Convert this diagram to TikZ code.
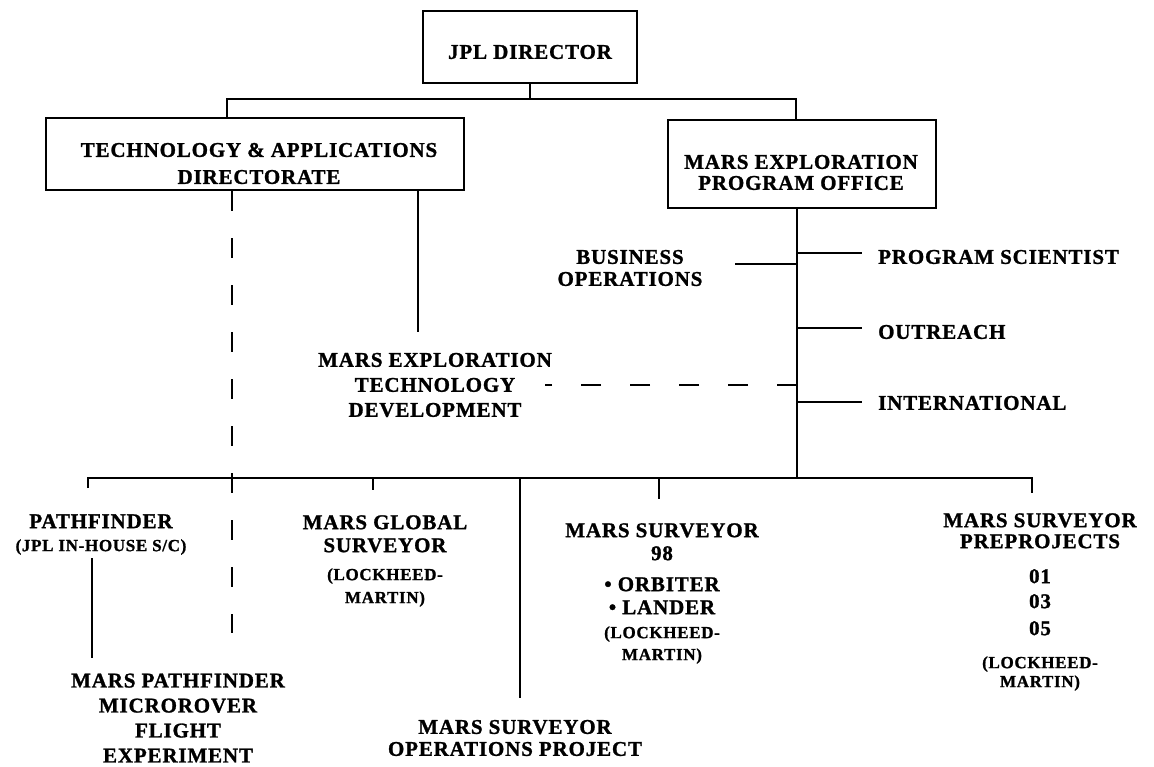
\documentclass[tikz,border=0pt]{standalone}
\usepackage{fontspec}
\setmainfont{Liberation Serif}
\newfontfamily\chartf[LetterSpace=4,BoldFeatures={FakeBold=1.2}]{Liberation Serif}
\newcommand\bigf{\chartf\bfseries\fontsize{21}{25}\selectfont}
\newcommand\smf{\chartf\bfseries\fontsize{17}{21}\selectfont}
\begin{document}
\begin{tikzpicture}[x=1pt,y=-1pt,
  ln/.style={line width=2.7pt},
  dsh/.style={line width=2.7pt,dash pattern=on 20pt off 27pt},
  box/.style={draw,line width=2.7pt,inner sep=0pt},
  txt/.style={align=center,inner sep=0pt,font=\bigf},
  lft/.style={anchor=west,inner sep=0pt,font=\bigf}]
\useasboundingbox[fill=white] (0,0) rectangle (1154,767);

% boxes
\node[box,minimum width=214pt,minimum height=72pt] (dir) at (530,47) {};
\node[txt] (dirt) at (530,52) {JPL DIRECTOR};
\node[box,minimum width=418pt,minimum height=72pt] (tad) at (255,154) {};
\node[txt] (tadt) at (259,163.5) {TECHNOLOGY \& APPLICATIONS\\[2pt]DIRECTORATE};
\node[box,minimum width=268pt,minimum height=88pt] (mepo) at (802,164) {};
\node[txt] (mepot) at (801,172.5) {MARS EXPLORATION\\[-4pt]PROGRAM OFFICE};

% labels
\node[txt] (bus) at (630,268) {BUSINESS\\[-3pt]OPERATIONS};
\node[lft] (ps) at (878,257) {PROGRAM SCIENTIST};
\node[lft] (out) at (878,332) {OUTREACH};
\node[lft] (intl) at (878,403) {INTERNATIONAL};
\node[txt] (met) at (435,385) {MARS EXPLORATION\\TECHNOLOGY\\DEVELOPMENT};
\node[txt] (pf) at (101,534.5) {PATHFINDER\\[-2pt]{\smf (JPL IN-HOUSE S/C)}};
\node[txt] (mpm) at (178,718) {MARS PATHFINDER\\MICROROVER\\FLIGHT\\EXPERIMENT};
\node[txt] (mgs) at (385,561) {MARS GLOBAL\\[-2pt]SURVEYOR\\[3pt]{\smf (LOCKHEED-}\\[-2pt]{\smf MARTIN)}};
\node[txt] (ms98) at (662,593.5) {MARS SURVEYOR\\[-2pt]98\\[6pt]\textbullet\ ORBITER\\[-2pt]\textbullet\ LANDER\\[-1pt]{\smf (LOCKHEED-}\\[-3pt]{\smf MARTIN)}};
\node[txt] (msp) at (1040,602) {MARS SURVEYOR\\[-4pt]PREPROJECTS\\[10pt]01\\03\\[2pt]05\\[8pt]{\smf (LOCKHEED-}\\[-6pt]{\smf MARTIN)}};
\node[txt] (msop) at (515,738) {MARS SURVEYOR\\[-3pt]OPERATIONS PROJECT};

% junction coordinates
\coordinate (hl) at (227,99);
\coordinate (hr) at (796,99);
\coordinate (tx) at (418,332);
\coordinate (td) at (232,633);
\coordinate (stem) at (797,478);
\coordinate (bl) at (88,478);
\coordinate (br) at (1032,478);
\coordinate (pfE) at (88,488);
\coordinate (mgsJ) at (373,478);
\coordinate (mgsE) at (373,490);
\coordinate (msopJ) at (520,478);
\coordinate (msopE) at (520,698);
\coordinate (ms98J) at (659,478);
\coordinate (ms98E) at (659,499);
\coordinate (mspE) at (1032,493);
\coordinate (pfS) at (92,558);
\coordinate (mpmN) at (92,658);
\coordinate (busW) at (735,264);
\coordinate (busE) at (797,264);
\coordinate (psW) at (797,253);
\coordinate (psE) at (862,253);
\coordinate (outW) at (797,328);
\coordinate (outE) at (862,328);
\coordinate (intW) at (797,402);
\coordinate (intE) at (862,402);
\coordinate (metE) at (545,385);
\coordinate (metJ) at (797,385);

% connectors
\draw[ln] (dir.south) -- (dir.south |- hl);
\draw[ln] (tad.north -| hl) -- (hl) -- (hr) -- (hr |- mepo.north);
\draw[ln] (tad.south -| tx) -- (tx);
\draw[dsh] (tad.south -| td) -- (td);
\draw[ln] (mepo.south -| stem) -- (stem);
\draw[ln] (pfE) -- (bl) -- (br) -- (mspE);
\draw[ln] (mgsJ) -- (mgsE);
\draw[ln] (msopJ) -- (msopE);
\draw[ln] (ms98J) -- (ms98E);
\draw[ln] (pfS) -- (mpmN);
\draw[ln] (busW) -- (busE);
\draw[ln] (psW) -- (psE);
\draw[ln] (outW) -- (outE);
\draw[ln] (intW) -- (intE);
\draw[dsh,dash pattern=on 20pt off 29pt] (metJ) -- (metE);
\end{tikzpicture}
\end{document}
